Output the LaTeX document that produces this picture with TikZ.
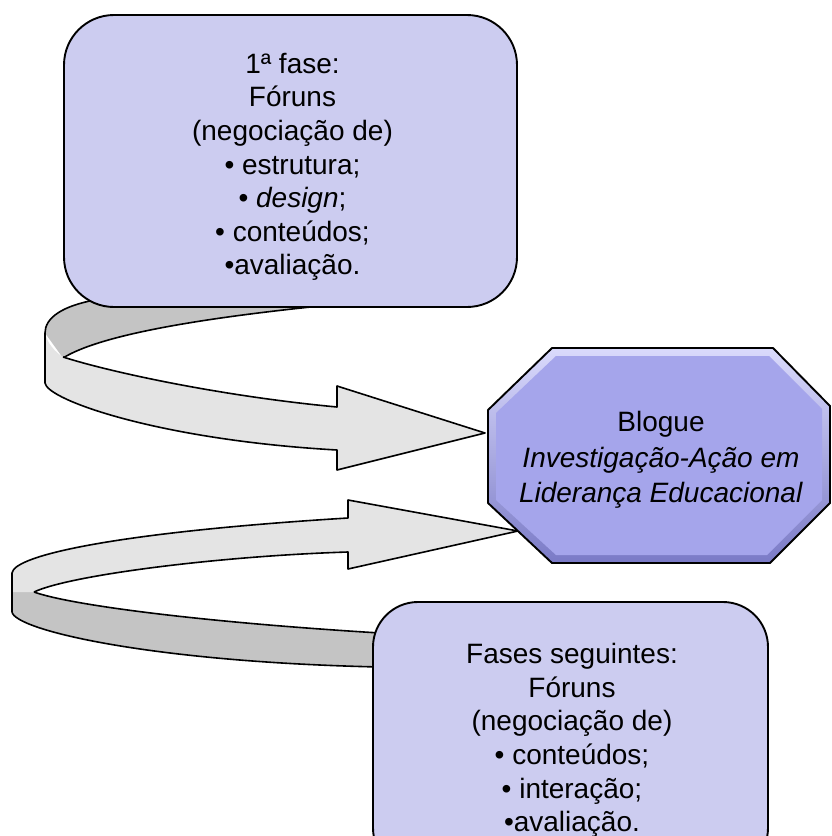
\documentclass[tikz,border=0pt]{standalone}
\usepackage{fontspec}
\setmainfont{Liberation Sans}
\usetikzlibrary{positioning}
\definecolor{faseblue}{RGB}{204,204,240}
\definecolor{blogblue}{RGB}{165,165,235}
\definecolor{bevellight}{RGB}{218,218,252}
\definecolor{beveldark}{RGB}{122,122,198}
\definecolor{ribbonfront}{RGB}{228,228,228}
\definecolor{ribbonback}{RGB}{196,196,196}
\tikzset{
	fasebox/.style={draw=black,line width=1.9pt,fill=faseblue,align=center,inner sep=0pt,font=\fontsize{28}{33.6}\selectfont},
	blogtext/.style={align=center,inner sep=0pt,font=\fontsize{28}{35.5}\selectfont},
	ribbon/.style={draw=black,line width=1.6pt,line join=round}
}
\begin{document}
\begin{tikzpicture}[x=1pt,y=-1pt]
	\clip (0,0) rectangle (832,836);
	\fill[white] (0,0) rectangle (832,836);

	\fill[ribbonback] (45,333) .. controls (45,318) and (62,306) .. (95,300) -- (330,300) -- (330,305) .. controls (200,318) and (100,335) .. (63,358) -- cycle;
	\draw[ribbon] (45,333) .. controls (45,318) and (62,306) .. (95,300);
	\draw[ribbon] (330,305) .. controls (200,318) and (100,335) .. (63,358);
	\fill[ribbonfront] (45,333) -- (45,383) .. controls (47,400) and (160,440) .. (337,450) -- (337,470) -- (485,433) -- (337,386) -- (337,407) .. controls (220,396) and (110,372) .. (63,357) .. controls (55,352) and (47,343) .. (45,333) -- cycle;
	\draw[ribbon] (63,357) .. controls (110,372) and (220,396) .. (337,407) -- (337,386) -- (485,433) -- (337,470) -- (337,450) .. controls (160,440) and (47,400) .. (45,383) -- (45,333);

	\fill[ribbonback] (12,592) -- (12,612) .. controls (15,630) and (150,662) .. (380,667) -- (380,633) .. controls (200,622) and (70,605) .. (34,592) -- cycle;
	\draw[ribbon] (12,612) .. controls (15,630) and (150,662) .. (380,667);
	\draw[ribbon] (34,592) .. controls (70,605) and (200,622) .. (380,633);
	\fill[ribbonfront] (12,573) .. controls (14,555) and (120,532) .. (348,518) -- (348,500) -- (518,531) -- (348,569) -- (348,552) .. controls (220,556) and (70,575) .. (34,592) -- (12,592) -- cycle;
	\draw[ribbon] (12,612) -- (12,573) .. controls (14,555) and (120,532) .. (348,518) -- (348,500) -- (518,531) -- (348,569) -- (348,552) .. controls (220,556) and (70,575) .. (34,592);

	\shade[top color=bevellight,bottom color=beveldark] (552,348) -- (773,348) -- (830,406) -- (830,503) -- (770,563) -- (552,563) -- (488,503) -- (488,410) -- cycle;
	\fill[blogblue] (556,356) -- (769,356) -- (822,409) -- (822,500) -- (767,555) -- (556,555) -- (496,500) -- (496,413) -- cycle;
	\draw[line width=1.9pt,line join=round] (552,348) -- (773,348) -- (830,406) -- (830,503) -- (770,563) -- (552,563) -- (488,503) -- (488,410) -- cycle;
	\node[blogtext] (blogue) at (661,460) {Blogue\\\textit{Investigação-Ação em}\\\textit{Liderança Educacional}};

	\node[fasebox,minimum width=453pt,minimum height=292pt,rounded corners=50pt] (fase1) at (290.5,161) {};
	\node[fasebox,draw=none,fill=none] (fase1text) at (292.5,167) {1ª fase:\\Fóruns\\(negociação de)\\• estrutura;\\• \textit{design};\\• conteúdos;\\•avaliação.};
	\node[fasebox,minimum width=395pt,minimum height=271pt,rounded corners=45pt] (seguintes) at (570.5,737.5) {};
	\node[fasebox,draw=none,fill=none] (seguintestext) at (572,740.5) {Fases seguintes:\\Fóruns\\(negociação de)\\• conteúdos;\\• interação;\\•avaliação.};
\end{tikzpicture}
\end{document}
